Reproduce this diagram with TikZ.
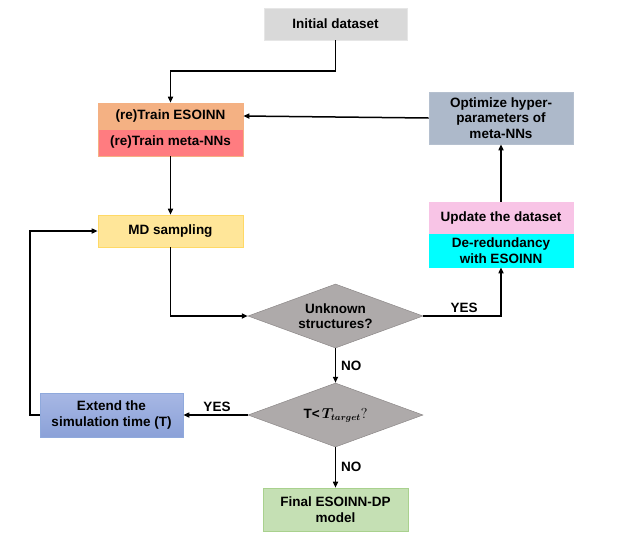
\documentclass[tikz,border=0pt]{standalone}
\usepackage{fontspec}
\setmainfont{Liberation Sans}
\usetikzlibrary{shapes.geometric,arrows.meta,calc}
\definecolor{cinit}{HTML}{D9D9D9}
\definecolor{cinitb}{HTML}{E6E6E6}
\definecolor{corange}{HTML}{F4B183}
\definecolor{cred}{HTML}{FF7C80}
\definecolor{cyellow}{HTML}{FFE699}
\definecolor{cyellowb}{HTML}{FFD966}
\definecolor{cslate}{HTML}{ADB9CA}
\definecolor{cpink}{HTML}{F8C4E6}
\definecolor{ccyan}{HTML}{00FFFF}
\definecolor{cdia}{HTML}{AEAAAA}
\definecolor{cdiab}{HTML}{8C8888}
\definecolor{cbluet}{HTML}{A7B7E4}
\definecolor{cblueb}{HTML}{8BA1D8}
\definecolor{cblueline}{HTML}{8FA9DC}
\definecolor{cgreen}{HTML}{C5E0B4}
\definecolor{cgreenb}{HTML}{A9D18E}
\begin{document}
\begin{tikzpicture}[x=1pt,y=-1pt,
  every node/.style={font=\fontsize{13.5}{15.5}\selectfont\bfseries, align=center, inner sep=0pt},
  box/.style={rectangle, minimum width=#1, line width=0.6pt},
  dia/.style={diamond, aspect=2.73, minimum width=175pt, minimum height=64pt, fill=cdia, draw=cdiab, line width=0.5pt},
  arr/.style={-{Triangle[length=6pt,width=5pt]}, line width=1.5pt, black},
  lab/.style={font=\fontsize{13.5}{15}\selectfont\bfseries}]
\useasboundingbox (0,0) rectangle (620,539);
\node[box=143pt, minimum height=32pt, fill=cinit, draw=cinitb] (init) at (335.5,24) {Initial dataset};
\node[box=145pt, minimum height=26pt, fill=corange, draw=corange] (train1) at (170.5,116) {(re)Train ESOINN};
\node[box=145pt, minimum height=27pt, fill=cred, draw=corange] (train2) at (170.5,142.5) {(re)Train meta-NNs};
\node[box=144pt, minimum height=52pt, fill=cslate, draw=cslate!90!white] (opt) at (501,118) {Optimize hyper-\\parameters of\\meta-NNs};
\node[box=144pt, minimum height=32pt, fill=cpink, draw=cpink] (upd) at (501,218) {Update the dataset};
\node[box=144pt, minimum height=33pt, fill=ccyan, draw=ccyan] (der) at (501,250.5) {De-redundancy\\with ESOINN};
\node[box=145pt, minimum height=32pt, fill=cyellow, draw=cyellowb] (md) at (170.5,231) {MD sampling};
\node[dia] (d1) at (335.5,316) {Unknown\\structures?};
\node[dia] (d2) at (335.5,415) {T<\,{\boldmath$T_{target}$}{\normalfont$?$}};
\node[box=143pt, minimum height=44pt, top color=cbluet, bottom color=cblueb, draw=cblueline] (ext) at (111.5,415) {Extend the\\simulation time (T)};
\node[box=145pt, minimum height=43pt, fill=cgreen, draw=cgreenb] (fin) at (335.5,509.5) {Final ESOINN-DP\\model};
\coordinate (c1) at (335.5,71);
\coordinate (c2) at (170.5,316);
\coordinate (c4) at (30,231);
\draw[arr] (init.south) -- (c1) -| (train1.north);
\draw[arr] (opt.west) -- (train1.east);
\draw[arr] (train2.south) -- (md.north);
\draw[arr] (md.south) -- (c2) -- (d1.west);
\draw[arr] (d1.east) -| (der.south);
\draw[arr] (upd.north) -- (opt.south);
\draw[arr] (d1.south) -- (d2.north);
\draw[arr] (d2.west) -- (ext.east);
\draw[arr] (ext.west) -| (c4) -- (md.west);
\draw[arr] (d2.south) -- (fin.north);
\node[lab, anchor=south] (y1) at (464,313) {YES};
\node[lab, anchor=west] (n1) at (341,366) {NO};
\node[lab, anchor=south] (y2) at (217,412) {YES};
\node[lab, anchor=west] (n2) at (341,467) {NO};
\end{tikzpicture}
\end{document}
